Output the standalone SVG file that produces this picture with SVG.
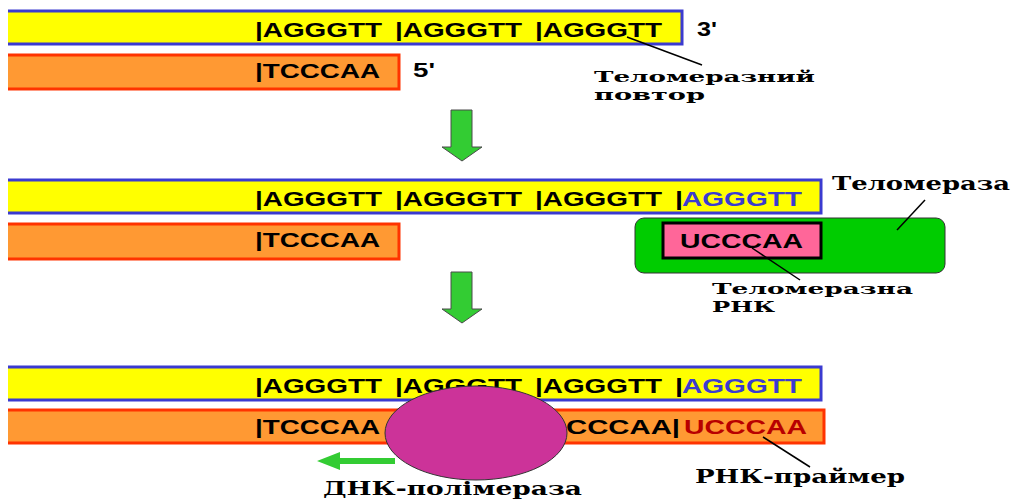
<svg xmlns="http://www.w3.org/2000/svg" width="1016" height="500" viewBox="0 0 1016 500">
<style>
.yb{fill:#ffff00}
.ob{fill:#ff9933}
.bl{stroke:#3b3bd0;stroke-width:3;fill:none}
.rl{stroke:#ff3300;stroke-width:3;fill:none}
.seq{font-family:"Liberation Sans",Arial,sans-serif;font-weight:bold;font-size:20px;fill:#000}
.blue{fill:#3b3bd0}
.dred{fill:#b80000}
.lab{font-family:"DejaVu Serif","Liberation Serif",serif;font-weight:bold;font-size:18px;fill:#000}
.lab2{font-family:"DejaVu Serif","Liberation Serif",serif;font-weight:bold;font-size:15px;fill:#000}
.lead{stroke:#000;stroke-width:1.5;fill:none}
.darr{fill:#33cc33;stroke:#4a4a4a;stroke-width:1}
</style>
<rect width="1016" height="500" fill="#fff"/>

<g id="row1">
  <rect class="yb" x="8" y="11" width="674" height="33"/>
  <path class="bl" d="M8,11 H682 V44 H8"/>
  <rect class="ob" x="8" y="55" width="391" height="34"/>
  <path class="rl" d="M8,55 H399 V89 H8"/>
  <text class="seq" x="255" y="37" textLength="127" lengthAdjust="spacingAndGlyphs">|AGGGTT</text>
  <text class="seq" x="395" y="37" textLength="127" lengthAdjust="spacingAndGlyphs">|AGGGTT</text>
  <text class="seq" x="535" y="37" textLength="127" lengthAdjust="spacingAndGlyphs">|AGGGTT</text>
  <text class="seq" x="697" y="36" textLength="20" lengthAdjust="spacingAndGlyphs">3'</text>
  <text class="seq" x="255" y="78" textLength="125" lengthAdjust="spacingAndGlyphs">|TCCCAA</text>
  <text class="seq" x="413" y="77" textLength="22" lengthAdjust="spacingAndGlyphs">5'</text>
</g>

<g id="label-povtor">
  <text class="lab2" x="594" y="82" textLength="221" lengthAdjust="spacingAndGlyphs">Теломеразний</text>
  <text class="lab2" x="594" y="100" textLength="111" lengthAdjust="spacingAndGlyphs">повтор</text>
</g>

<g id="arrow1"><polygon class="darr" points="451,110 472,110 472,147 482,147 462,161 442,147 451,147"/></g>
<g id="arrow2"><polygon class="darr" points="451,272 472,272 472,309 482,309 462,323 442,309 451,309"/></g>

<g id="row2">
  <rect class="yb" x="8" y="180" width="813" height="33"/>
  <path class="bl" d="M8,180 H821 V213 H8"/>
  <rect class="ob" x="8" y="224" width="391" height="35"/>
  <path class="rl" d="M8,224 H399 V259 H8"/>
  <text class="seq" x="255" y="206" textLength="127" lengthAdjust="spacingAndGlyphs">|AGGGTT</text>
  <text class="seq" x="395" y="206" textLength="127" lengthAdjust="spacingAndGlyphs">|AGGGTT</text>
  <text class="seq" x="535" y="206" textLength="127" lengthAdjust="spacingAndGlyphs">|AGGGTT</text>
  <text class="seq" x="675" y="206" textLength="8" lengthAdjust="spacingAndGlyphs">|</text>
  <text class="seq blue" x="682" y="206" textLength="120" lengthAdjust="spacingAndGlyphs">AGGGTT</text>
  <text class="seq" x="255" y="247" textLength="125" lengthAdjust="spacingAndGlyphs">|TCCCAA</text>
</g>

<g id="telomerase">
  <rect x="635" y="218" width="310" height="55" rx="9" fill="#00cc00" stroke="#333" stroke-width="1"/>
  <rect x="663" y="223" width="158" height="35" fill="#ff6699" stroke="#000" stroke-width="3"/>
  <text class="seq" x="680" y="248" textLength="123" lengthAdjust="spacingAndGlyphs">UCCCAA</text>
</g>

<g id="label-telomerase">
  <text class="lab" x="832" y="190" textLength="178" lengthAdjust="spacingAndGlyphs">Теломераза</text>
</g>
<g id="label-rna">
  <text class="lab2" x="712" y="294" textLength="201" lengthAdjust="spacingAndGlyphs">Теломеразна</text>
  <text class="lab2" x="712" y="312" textLength="63" lengthAdjust="spacingAndGlyphs">РНК</text>
</g>

<g id="row3">
  <rect class="yb" x="8" y="367" width="813" height="33"/>
  <path class="bl" d="M8,367 H821 V400 H8"/>
  <rect class="ob" x="8" y="410" width="816" height="33"/>
  <path class="rl" d="M8,410 H824 V443 H8"/>
  <text class="seq" x="255" y="393" textLength="127" lengthAdjust="spacingAndGlyphs">|AGGGTT</text>
  <text class="seq" x="395" y="393" textLength="127" lengthAdjust="spacingAndGlyphs">|AGGGTT</text>
  <text class="seq" x="535" y="393" textLength="127" lengthAdjust="spacingAndGlyphs">|AGGGTT</text>
  <text class="seq" x="675" y="393" textLength="8" lengthAdjust="spacingAndGlyphs">|</text>
  <text class="seq blue" x="682" y="393" textLength="120" lengthAdjust="spacingAndGlyphs">AGGGTT</text>
  <text class="seq" x="255" y="434" textLength="125" lengthAdjust="spacingAndGlyphs">|TCCCAA</text>
  <text class="seq" x="566" y="434" textLength="114" lengthAdjust="spacingAndGlyphs">CCCAA|</text>
  <text class="seq dred" x="684" y="434" textLength="123" lengthAdjust="spacingAndGlyphs">UCCCAA</text>
</g>

<g id="polymerase">
  <ellipse cx="476" cy="433" rx="91" ry="47" fill="#cc3399" stroke="#333" stroke-width="1"/>
</g>

<g id="left-arrow">
  <polygon points="395,458 340,458 340,452 317,461 340,470 340,464 395,464" fill="#33cc33"/>
</g>

<g id="label-polymerase">
  <text class="lab" x="323" y="495" textLength="259" lengthAdjust="spacingAndGlyphs">ДНК-полімераза</text>
</g>
<g id="label-primer">
  <text class="lab" x="695" y="483" textLength="210" lengthAdjust="spacingAndGlyphs">РНК-праймер</text>
</g>

<g id="connectors">
  <line class="lead" x1="627" y1="37" x2="702" y2="65"/>
  <line class="lead" x1="925" y1="200" x2="897" y2="230"/>
  <line class="lead" x1="752" y1="248" x2="800" y2="280"/>
  <line class="lead" x1="763" y1="437" x2="810" y2="467"/>
</g>
</svg>
